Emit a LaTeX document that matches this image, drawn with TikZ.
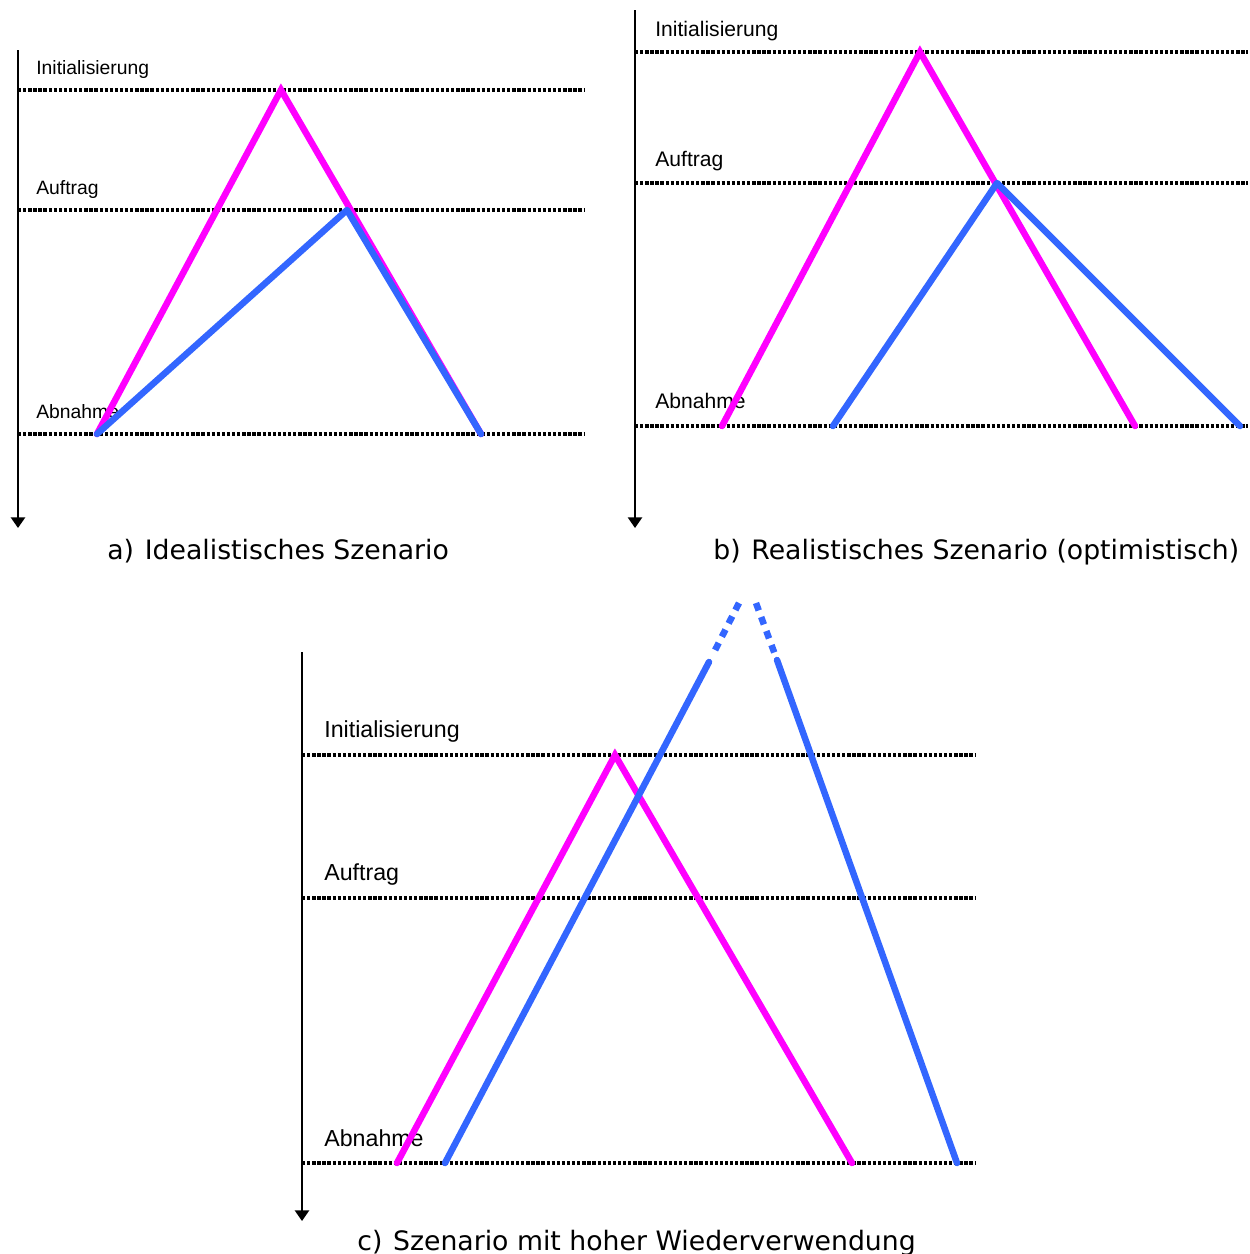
\documentclass[tikz,border=0pt]{standalone}
\usepackage{fontspec}
\setmainfont{Liberation Sans}
\newfontfamily\capfont{DejaVu Sans}
\usetikzlibrary{arrows.meta}
\definecolor{linemag}{RGB}{255,0,255}
\definecolor{lineblue}{RGB}{51,102,255}

\begin{document}
\begin{tikzpicture}[x=0.02cm,y=-0.02cm,
  axis/.style={line width=1.1pt,-{Triangle[width=8pt,length=6pt]}},
  level/.style={line width=2pt,dash pattern=on 1.9pt off 1pt},
  lbl/.style={anchor=base west,inner sep=0pt,font=\fontsize{11}{13}\selectfont},
  lblmid/.style={lbl,font=\fontsize{12}{14}\selectfont},
  lblbig/.style={lbl,font=\fontsize{13.2}{15}\selectfont},
  caption/.style={anchor=base west,inner sep=0pt,font=\capfont\fontsize{15.2}{18}\selectfont},
  mag/.style={line width=3.7pt,color=linemag,line cap=round,line join=miter},
  blu/.style={line width=3.7pt,color=lineblue,line cap=round,line join=round},
  bludash/.style={line width=3.7pt,color=lineblue,dash pattern=on 4.5pt off 4pt,shorten >=4pt}
]
\useasboundingbox (0,0) rectangle (1250,1254);

% a) idealistic
\node[lbl] (iniA) at (36,74) {Initialisierung};
\node[lbl] (aufA) at (36,194) {Auftrag};
\node[lbl] (abnA) at (36,418) {Abnahme};
\coordinate (axA1) at (18,50);  \coordinate (axA2) at (18,528);
\coordinate (iA1) at (18,90);   \coordinate (iA2) at (585,90);
\coordinate (fA1) at (18,210);  \coordinate (fA2) at (585,210);
\coordinate (nA1) at (18,434);  \coordinate (nA2) at (585,434);
\draw[axis] (axA1) -- (axA2);
\draw[level] (iA1) -- (iA2);
\draw[level] (fA1) -- (fA2);
\draw[level] (nA1) -- (nA2);
\coordinate (mA1) at (97,434);  \coordinate (mA2) at (281,90);  \coordinate (mA3) at (481,434);
\coordinate (bA2) at (347,210);
\draw[mag] (mA1) -- (mA2) -- (mA3);
\draw[blu] (mA1) -- (bA2) -- (mA3);
\node[caption] (capA) at (107,559) {a)\hspace{0.4em}Idealistisches Szenario};

% b) realistic
\node[lblmid] (iniB) at (655,36) {Initialisierung};
\node[lblmid] (aufB) at (655,166) {Auftrag};
\node[lblmid] (abnB) at (655,408) {Abnahme};
\coordinate (axB1) at (635,10); \coordinate (axB2) at (635,528);
\coordinate (iB1) at (635,52);  \coordinate (iB2) at (1248,52);
\coordinate (fB1) at (635,183); \coordinate (fB2) at (1248,183);
\coordinate (nB1) at (635,426); \coordinate (nB2) at (1248,426);
\draw[axis] (axB1) -- (axB2);
\draw[level] (iB1) -- (iB2);
\draw[level] (fB1) -- (fB2);
\draw[level] (nB1) -- (nB2);
\coordinate (mB1) at (722,426); \coordinate (mB2) at (920,52);  \coordinate (mB3) at (1135,426);
\coordinate (bB1) at (833,426); \coordinate (bB2) at (997,183); \coordinate (bB3) at (1240,426);
\draw[mag] (mB1) -- (mB2) -- (mB3);
\draw[blu] (bB1) -- (bB2) -- (bB3);
\node[caption] (capB) at (713,559) {b)\hspace{0.4em}Realistisches Szenario (optimistisch)};

% c) high reuse
\node[lblbig] (iniC) at (324,737) {Initialisierung};
\node[lblbig] (aufC) at (324,880) {Auftrag};
\node[lblbig] (abnC) at (324,1146) {Abnahme};
\coordinate (axC1) at (302,652); \coordinate (axC2) at (302,1221);
\coordinate (iC1) at (302,755);  \coordinate (iC2) at (975,755);
\coordinate (fC1) at (302,898);  \coordinate (fC2) at (975,898);
\coordinate (nC1) at (302,1163); \coordinate (nC2) at (975,1163);
\draw[axis] (axC1) -- (axC2);
\draw[level] (iC1) -- (iC2);
\draw[level] (fC1) -- (fC2);
\draw[level] (nC1) -- (nC2);
\coordinate (mC1) at (397,1163); \coordinate (mC2) at (615,755); \coordinate (mC3) at (852,1163);
\draw[mag] (mC1) -- (mC2) -- (mC3);
\coordinate (bC1) at (445,1163); \coordinate (bC1s) at (709,662); \coordinate (bC1t) at (739,603);
\coordinate (bC2) at (957,1163); \coordinate (bC2s) at (777,660); \coordinate (bC2t) at (756,603);
\draw[blu] (bC1) -- (bC1s);
\draw[blu] (bC2) -- (bC2s);
\draw[bludash] (bC1t) -- (bC1s);
\draw[bludash] (bC2t) -- (bC2s);
\node[caption] (capC) at (357,1250) {c)\hspace{0.4em}Szenario mit hoher Wiederverwendung};
\end{tikzpicture}
\end{document}
